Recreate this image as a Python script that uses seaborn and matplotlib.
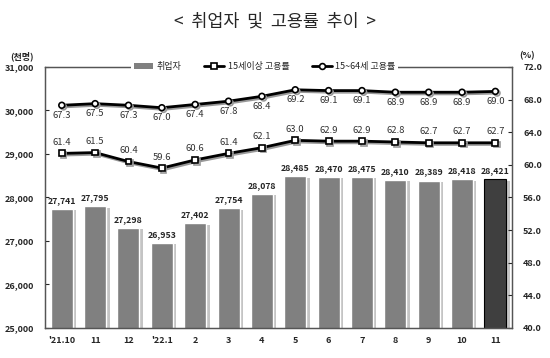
import numpy as np
import pandas as pd
import seaborn as sns
import matplotlib.pyplot as plt
import matplotlib.patheffects as pe
from matplotlib.lines import Line2D
from matplotlib.patches import Patch

months = ["'21.10", "11", "12", "'22.1", "2", "3", "4", "5", "6", "7", "8", "9", "10", "11"]
employed = [27741, 27795, 27298, 26953, 27402, 27754, 28078, 28485, 28470, 28475, 28410, 28389, 28418, 28421]
rate_15plus = [61.4, 61.5, 60.4, 59.6, 60.6, 61.4, 62.1, 63.0, 62.9, 62.9, 62.8, 62.7, 62.7, 62.7]
rate_15_64 = [67.3, 67.5, 67.3, 67.0, 67.4, 67.8, 68.4, 69.2, 69.1, 69.1, 68.9, 68.9, 68.9, 69.0]

sns.set_style("white")
plt.rcParams['font.family'] = ['Noto Sans CJK KR', 'DejaVu Sans']

df = pd.DataFrame({'month': months, 'employed': employed,
                   'r15': rate_15plus, 'r1564': rate_15_64})
df['pos'] = np.arange(len(df))

fig = plt.figure(figsize=(5.5, 3.58), dpi=100)
ax = fig.add_axes([0.082, 0.084, 0.849, 0.729])

# 막대 (마지막 달만 진하게)
colors = ['#808080'] * (len(df) - 1) + ['#3f3f3f']
sns.barplot(data=df, x='pos', y='employed', hue='pos', palette=colors,
            legend=False, width=0.66, ax=ax, saturation=1, errorbar=None)
shadow = [pe.SimplePatchShadow(offset=(2.5, -1), shadow_rgbFace='#c4c4c4', alpha=1), pe.Normal()]
for i, p in enumerate(ax.patches):
    p.set_path_effects(shadow)
    if i == len(ax.patches) - 1:
        p.set_edgecolor('black')
        p.set_linewidth(0.8)

ax.set_ylim(25000, 31000)
ax.set_yticks(range(25000, 31001, 1000))
ax.set_yticklabels([f"{v:,}" for v in range(25000, 31001, 1000)], fontsize=6.5, fontweight='bold')
ax.set_xlim(-0.5, len(df) - 0.5)
ax.set_xticks(df['pos'])
ax.set_xticklabels(months, fontsize=6.5, fontweight='bold')
ax.set_xlabel('')
ax.set_ylabel('')
ax.tick_params(axis='x', length=0, pad=6)
ax.tick_params(axis='y', length=3, direction='in', pad=8)

for x, v in zip(df['pos'], df['employed']):
    ax.text(x, v + 90, f"{v:,}", ha='center', va='bottom', fontsize=6.3, fontweight='bold')

# 고용률 꺾은선
ax2 = ax.twinx()
line_fx = [pe.SimpleLineShadow(offset=(1.2, -1.2), shadow_color='#999999', alpha=1), pe.Normal()]
sns.lineplot(data=df, x='pos', y='r1564', ax=ax2, color='black', linewidth=2,
             marker='o', markersize=4.2, markerfacecolor='white', markeredgecolor='black',
             markeredgewidth=1.2, path_effects=line_fx)
sns.lineplot(data=df, x='pos', y='r15', ax=ax2, color='black', linewidth=2,
             marker='s', markersize=4.2, markerfacecolor='white', markeredgecolor='black',
             markeredgewidth=1.2, path_effects=line_fx)
ax2.set_ylim(40, 72)
ax2.set_yticks(np.arange(40, 72.1, 4))
ax2.set_yticklabels([f"{v:.1f}" for v in np.arange(40, 72.1, 4)], fontsize=6.5, fontweight='bold')
ax2.set_ylabel('')
ax2.set_xlabel('')
ax2.tick_params(axis='y', length=3, direction='in', pad=8)

for x, v in zip(df['pos'], df['r1564']):
    ax2.text(x, v - 0.7, f"{v:.1f}", ha='center', va='top', fontsize=6.8, color='#333333')
for x, v in zip(df['pos'], df['r15']):
    ax2.text(x, v + 0.8, f"{v:.1f}", ha='center', va='bottom', fontsize=6.8, color='#333333')

for a in (ax, ax2):
    for s in a.spines.values():
        s.set_color('#555555')
        s.set_linewidth(0.9)

handles = [Patch(facecolor='#808080', edgecolor='none'),
           Line2D([], [], color='black', lw=2, marker='s', markersize=4.2,
                  markerfacecolor='white', markeredgewidth=1.2),
           Line2D([], [], color='black', lw=2, marker='o', markersize=4.2,
                  markerfacecolor='white', markeredgewidth=1.2)]
leg = ax2.legend(handles, ['취업자', '15세이상 고용률', '15~64세 고용률'], loc='center',
                 bbox_to_anchor=(0.47, 1.0), ncol=3, fontsize=6.5, frameon=True,
                 handlelength=2.2, handleheight=0.6, columnspacing=2.5, borderpad=0.3,
                 handletextpad=0.4)
leg.get_frame().set_facecolor('white')
leg.get_frame().set_edgecolor('none')
leg.get_frame().set_alpha(1)

fig.text(0.5, 0.94, '<  취업자  및  고용률  추이  >', ha='center', va='center', fontsize=12.5)
fig.text(0.04, 0.843, '(천명)', ha='center', va='center', fontsize=6.5, fontweight='bold')
fig.text(0.958, 0.843, '(%)', ha='center', va='center', fontsize=6.5, fontweight='bold')

fig.savefig('out.png', dpi=100)
